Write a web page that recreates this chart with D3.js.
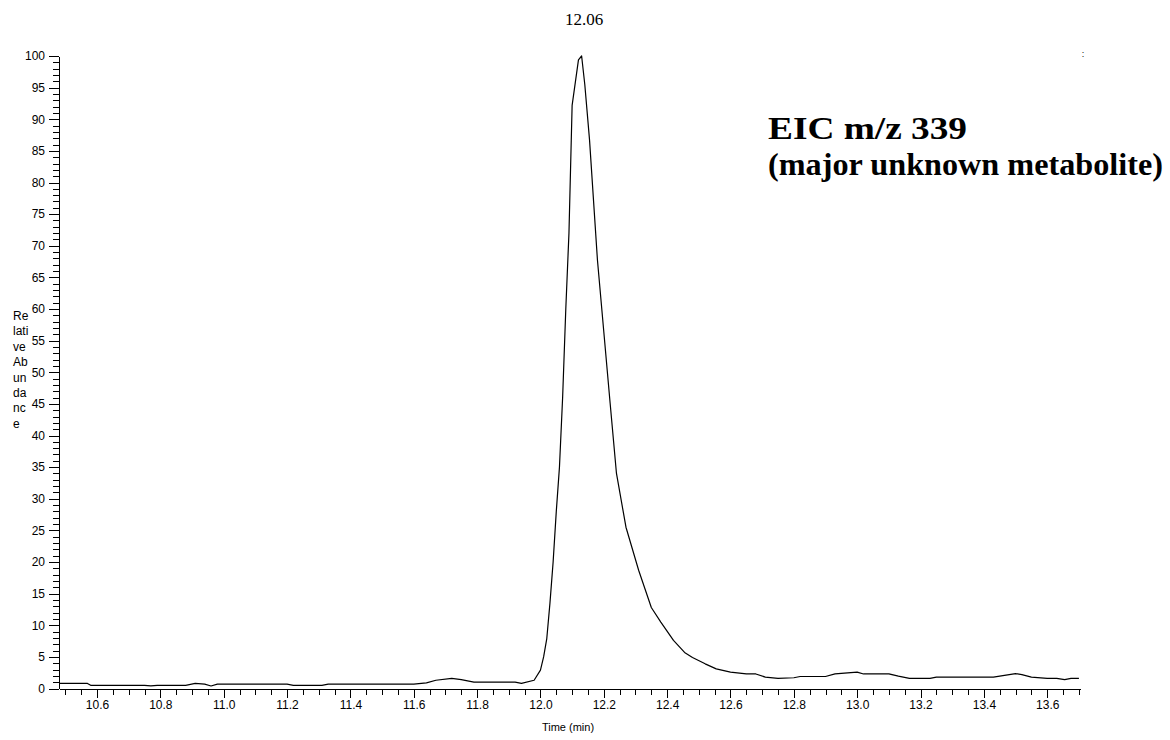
<!DOCTYPE html>
<html>
<head>
<meta charset="utf-8">
<script src="https://cdn.jsdelivr.net/npm/d3@7/dist/d3.min.js"></script>
<style>
  html, body { margin: 0; padding: 0; background: #fff; }
  svg { display: block; }
</style>
</head>
<body>
<svg id="chart" width="1170" height="740"></svg>
<script>
// ---- data ----
const times = [10.48, 10.55, 10.57, 10.58, 10.75, 10.77, 10.79, 10.88, 10.91, 10.94, 10.96, 10.98,
  11.20, 11.22, 11.31, 11.33, 11.60, 11.64, 11.67, 11.72, 11.75, 11.79, 11.92, 11.94, 11.98,
  12.00, 12.01, 12.02, 12.03, 12.04, 12.05, 12.06, 12.07, 12.08, 12.09, 12.10, 12.12, 12.13,
  12.14, 12.155, 12.18, 12.20, 12.22, 12.24, 12.27, 12.31, 12.35, 12.38, 12.42, 12.455, 12.48,
  12.52, 12.555, 12.60, 12.65, 12.68, 12.71, 12.75, 12.80, 12.82, 12.90, 12.93, 13.00, 13.02,
  13.10, 13.13, 13.165, 13.23, 13.25, 13.43, 13.46, 13.50, 13.52, 13.55, 13.60, 13.63, 13.655,
  13.675, 13.70];
const abundance = [0.8, 0.8, 0.8, 0.5, 0.5, 0.4, 0.5, 0.5, 0.8, 0.7, 0.4, 0.7,
  0.7, 0.5, 0.5, 0.7, 0.7, 0.9, 1.3, 1.6, 1.4, 1.0, 1.0, 0.8, 1.3,
  2.9, 5.0, 7.9, 13.5, 20, 28, 35, 46, 60, 72, 92.2, 99.4, 100,
  95.5, 86.7, 67.7, 56.4, 45.1, 34, 25.5, 18.7, 12.8, 10.5, 7.6, 5.7, 4.9,
  3.9, 3.1, 2.6, 2.3, 2.3, 1.8, 1.6, 1.7, 1.9, 1.9, 2.3, 2.6, 2.3,
  2.3, 1.95, 1.6, 1.6, 1.8, 1.8, 2.05, 2.35, 2.2, 1.8, 1.6, 1.6, 1.4,
  1.6, 1.6];
const xMajorTicks = [10.6, 10.8, 11.0, 11.2, 11.4, 11.6, 11.8, 12.0, 12.2, 12.4, 12.6, 12.8, 13.0, 13.2, 13.4, 13.6];
const yMajorTicks = [0, 5, 10, 15, 20, 25, 30, 35, 40, 45, 50, 55, 60, 65, 70, 75, 80, 85, 90, 95, 100];
const peakLabel = "12.06";
const titleLines = ["EIC m/z 339", "(major unknown metabolite)"];
const yLabelLines = ["Re", "lati", "ve", "Ab", "un", "da", "nc", "e"];
const xTitle = "Time (min)";

// ---- drawing ----
const svg = d3.select("#chart");
const x = d3.scaleLinear().domain([10.48, 13.705]).range([59, 1080.5]);
const y = d3.scaleLinear().domain([0, 100]).range([688.5, 56]);

const sans = "'Liberation Sans', Arial, sans-serif";
const serif = "'Liberation Serif', 'Times New Roman', serif";

// minor x ticks every 0.05
const xMinor = d3.range(0, 65).map(i => +(10.50 + i * 0.05).toFixed(2)).filter(v => v <= 13.705);
svg.append("g")
  .attr("transform", `translate(0,${y(0)})`)
  .call(d3.axisBottom(x).tickValues(xMinor).tickSize(6).tickSizeOuter(0).tickFormat(""));
const gx = svg.append("g")
  .attr("transform", `translate(0,${y(0)})`)
  .call(d3.axisBottom(x).tickValues(xMajorTicks).tickSize(9).tickSizeOuter(0).tickFormat(d3.format(".1f")));
gx.selectAll("text").attr("font-family", sans).attr("font-size", 12).attr("fill", "#000").attr("dy", "0.71em").attr("y", 12);

// minor y ticks every 1
const yMinor = d3.range(0, 101);
svg.append("g")
  .attr("transform", `translate(59,0)`)
  .call(d3.axisLeft(y).tickValues(yMinor).tickSize(6).tickSizeOuter(0).tickFormat(""));
const gy = svg.append("g")
  .attr("transform", `translate(59,0)`)
  .call(d3.axisLeft(y).tickValues(yMajorTicks).tickSize(10).tickSizeOuter(0).tickFormat(d3.format("d")));
gy.selectAll("text").attr("font-family", sans).attr("font-size", 12).attr("fill", "#000").attr("x", -14);

svg.selectAll(".domain, .tick line").attr("stroke", "#000").attr("stroke-width", 1).attr("shape-rendering", "crispEdges");

// line
const pts = times.map((t, i) => [t, abundance[i]]);
svg.append("path")
  .datum(pts)
  .attr("fill", "none")
  .attr("stroke", "#000")
  .attr("stroke-width", 1.2)
  .attr("stroke-linejoin", "round")
  .attr("d", d3.line().x(d => x(d[0])).y(d => y(d[1])));

// texts
svg.append("text").attr("x", 584).attr("y", 25).attr("text-anchor", "middle")
  .attr("font-family", serif).attr("font-size", 17).text(peakLabel);

svg.append("text").attr("x", 1083).attr("y", 57).attr("text-anchor", "middle")
  .attr("font-family", sans).attr("font-size", 9).text(":");

const titleWidths = [199, 395];
svg.selectAll("text.title").data(titleLines).enter().append("text")
  .attr("class", "title")
  .attr("x", 768).attr("y", (d, i) => 139 + i * 36)
  .attr("font-family", serif).attr("font-weight", "bold").attr("font-size", 31)
  .attr("textLength", (d, i) => titleWidths[i])
  .attr("lengthAdjust", "spacingAndGlyphs")
  .text(d => d);

svg.selectAll("text.ylab").data(yLabelLines).enter().append("text")
  .attr("class", "ylab")
  .attr("x", 13).attr("y", (d, i) => 320 + i * 15.4)
  .attr("font-family", sans).attr("font-size", 12)
  .text(d => d);

svg.append("text").attr("x", 568).attr("y", 731).attr("text-anchor", "middle")
  .attr("font-family", sans).attr("font-size", 11).text(xTitle);
</script>
</body>
</html>
